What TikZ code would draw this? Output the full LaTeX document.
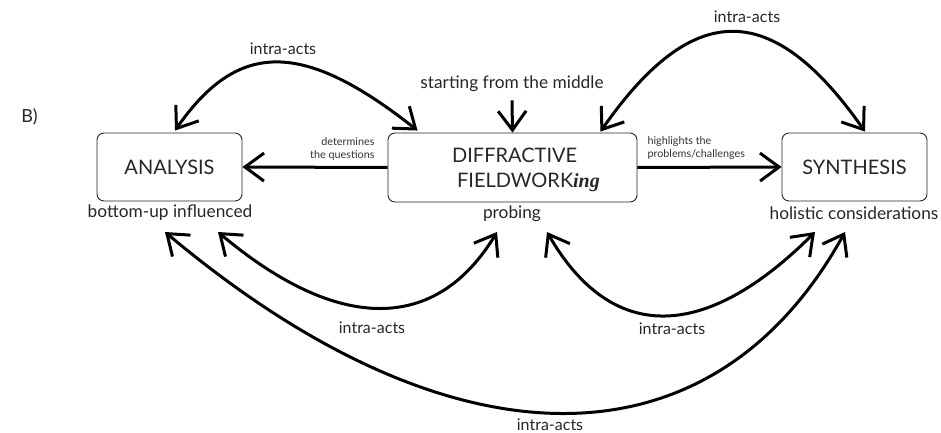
\documentclass[tikz,border=0pt]{standalone}
\usepackage{fontspec}
\setmainfont{Lato}
\newfontfamily\ingfont{Liberation Serif}
\usetikzlibrary{arrows.meta}

\begin{document}
\begin{tikzpicture}[x=1pt,y=-1pt,
  box/.style={draw=black!85, rounded corners=7pt, line width=0.9pt,
    minimum width=145pt, minimum height=68pt, inner sep=0pt},
  big/.style={font=\fontsize{20}{25}\selectfont, text=black!85},
  sub/.style={font=\fontsize{17.3}{20}\selectfont, text=black!85},
  small/.style={font=\fontsize{10.8}{13}\selectfont, text=black!80},
  lab/.style={font=\fontsize{16}{18}\selectfont, text=black!85},
  flow/.style={line width=3pt, -{Straight Barb[length=19pt,width=28pt]}},
  both/.style={line width=3pt,
    {Straight Barb[length=19pt,width=28pt]}-{Straight Barb[length=19pt,width=28pt]}},
]
\useasboundingbox (0,0) rectangle (941,433);

% panel letter
\node[lab, font=\fontsize{18}{20}\selectfont] (panel) at (29.5,116.5) {B)};

% the three stages
\node[box, big] (ana) at (169.5,167) {ANALYSIS};
\node[box, minimum width=249pt, minimum height=69pt] (dif) at (512.5,167.5) {};
\node[big, align=left, inner sep=0pt] (diftext) at (526,169.5)
  {DIFFRACTIVE\\\hspace{5pt}FIELDWORK{\ingfont\bfseries\itshape ing}};
\node[box, big] (syn) at (854.5,167) {SYNTHESIS};

% captions under the stages
\node[sub] (anab) at (170,213) {bottom-up influenced};
\node[sub] (probe) at (512,214) {probing};
\node[sub] (holb) at (854,213) {holistic considerations};

% entry point
\node[sub] (start) at (512,84) {starting from the middle};
\draw[flow] ([yshift=-5pt]start.south) -- (dif.north);

% straight links
\draw[flow] (dif.west) -- (ana.east);
\node[small, align=right, anchor=east] (detq) at (378,148.5) {determines\\the questions};
\draw[flow] (dif.east) -- (syn.west);
\node[small, align=left, anchor=west] (highp) at (644,148.5) {highlights the\\problems/challenges};

% upper intra-acting arcs
\draw[both] ([shift={(5.5,-2)}]ana.north) .. controls (238,40) and (303,40) .. ([shift={(30,-2)}]dif.north west);
\node[lab] (ia1) at (283,49) {intra-acts};
\draw[both] ([shift={(-37,-1)}]dif.north east) .. controls (693,-1) and (772,-1) .. ([shift={(10.5,-1)}]syn.north);
\node[lab] (ia2) at (747,17) {intra-acts};

% lower intra-acting arcs
\draw[both] ([shift={(48,19)}]anab.center) .. controls (338,333) and (436,333) .. ([shift={(-15,18)}]probe.center);
\node[lab] (ia3) at (372,328) {intra-acts};
\draw[both] ([shift={(35,18)}]probe.center) .. controls (611,343) and (704,343) .. ([shift={(-39,19)}]holb.center);
\node[lab] (ia4) at (672,329) {intra-acts};
\draw[both] ([shift={(-5,19)}]anab.center) .. controls (452,473) and (712,473) .. ([shift={(-9,19)}]holb.center);
\node[lab] (ia5) at (550,425) {intra-acts};
\end{tikzpicture}
\end{document}
